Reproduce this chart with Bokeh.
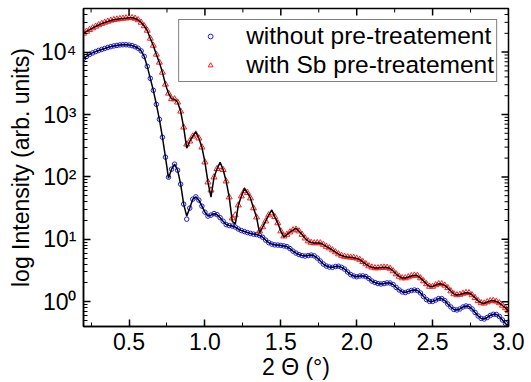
import math
from bokeh.plotting import figure
from bokeh.models import (Range1d, FixedTicker, Legend, LegendItem,
                          PrintfTickFormatter)
from bokeh.embed import file_html
from bokeh.resources import INLINE

two_theta = [0.20, 0.22, 0.24, 0.26, 0.28, 0.30, 0.32, 0.34, 0.36, 0.38,
             0.40, 0.42, 0.44, 0.46, 0.48, 0.50, 0.52, 0.54, 0.56, 0.58,
             0.60, 0.62, 0.64, 0.66, 0.68, 0.70, 0.72, 0.74, 0.76, 0.78,
             0.80, 0.82, 0.84, 0.86, 0.88, 0.90, 0.92, 0.94, 0.96, 0.98,
             1.00, 1.02, 1.04, 1.06, 1.08, 1.10, 1.12, 1.14, 1.16, 1.18,
             1.20, 1.22, 1.24, 1.26, 1.28, 1.30, 1.32, 1.34, 1.36, 1.38,
             1.40, 1.42, 1.44, 1.46, 1.48, 1.50, 1.52, 1.54, 1.56, 1.58,
             1.60, 1.62, 1.64, 1.66, 1.68, 1.70, 1.72, 1.74, 1.76, 1.78,
             1.80, 1.82, 1.84, 1.86, 1.88, 1.90, 1.92, 1.94, 1.96, 1.98,
             2.00, 2.02, 2.04, 2.06, 2.08, 2.10, 2.12, 2.14, 2.16, 2.18,
             2.20, 2.22, 2.24, 2.26, 2.28, 2.30, 2.32, 2.34, 2.36, 2.38,
             2.40, 2.42, 2.44, 2.46, 2.48, 2.50, 2.52, 2.54, 2.56, 2.58,
             2.60, 2.62, 2.64, 2.66, 2.68, 2.70, 2.72, 2.74, 2.76, 2.78,
             2.80, 2.82, 2.84, 2.86, 2.88, 2.90, 2.92, 2.94, 2.96, 2.98,
             3.00]

# without pre-treatement (measured)
blue_data = [7900, 8530, 9190, 9700, 10180, 10640, 11040, 11450, 11880, 12240,
             12560, 12790, 13030, 13120, 13120, 12980, 12700, 12190, 11530, 10450,
             8530, 5900, 3790, 2440, 1455, 837, 432, 207, 98.9, 133,
             160, 128, 76.4, 36.6, 21.0, 31.6, 44.0, 47.9, 42.4, 34.0,
             27.2, 23.5, 24.4, 25.8, 24.8, 22.2, 19.5, 17.2, 16.6, 16.3,
             15.7, 14.6, 13.8, 13.3, 12.8, 12.4, 12.1, 11.9, 11.5, 10.8,
             9.71, 8.85, 8.38, 8.13, 8.07, 7.98, 7.83, 7.64, 7.10, 6.47,
             6.01, 5.69, 5.48, 5.38, 5.48, 5.58, 5.42, 5.00, 4.48, 4.01,
             3.72, 3.59, 3.55, 3.66, 3.70, 3.55, 3.33, 2.99, 2.72, 2.58,
             2.51, 2.58, 2.59, 2.53, 2.35, 2.14, 2.03, 1.95, 1.92, 1.95,
             2.00, 1.99, 1.88, 1.69, 1.54, 1.43, 1.40, 1.46, 1.51, 1.54,
             1.51, 1.38, 1.21, 1.08, 1.01, 1.01, 1.06, 1.12, 1.12, 1.04,
             0.918, 0.822, 0.750, 0.736, 0.764, 0.822, 0.853, 0.838, 0.764, 0.671,
             0.590, 0.538, 0.528, 0.558, 0.601, 0.628, 0.624, 0.579, 0.509, 0.448,
             0.401]

# without pre-treatement (fit)
blue_fit = [7900, 8530, 9190, 9700, 10180, 10640, 11040, 11450, 11880, 12240,
            12560, 12790, 13030, 13120, 13120, 12980, 12700, 12190, 11530, 10450,
            8530, 5900, 3790, 2440, 1455, 837, 432, 207, 95.3, 133,
            160, 128, 76.4, 36.6, 23.5, 31.6, 44.0, 47.9, 42.4, 34.0,
            27.2, 23.5, 24.4, 25.8, 24.8, 22.2, 19.5, 17.2, 16.6, 16.3,
            15.7, 14.6, 13.8, 13.3, 12.8, 12.4, 12.1, 11.9, 11.5, 10.8,
            9.71, 8.85, 8.38, 8.13, 8.07, 7.98, 7.83, 7.64, 7.10, 6.47,
            6.01, 5.69, 5.48, 5.38, 5.48, 5.58, 5.42, 5.00, 4.48, 4.01,
            3.72, 3.59, 3.55, 3.66, 3.70, 3.55, 3.33, 2.99, 2.72, 2.58,
            2.51, 2.58, 2.59, 2.53, 2.35, 2.14, 2.03, 1.95, 1.92, 1.95,
            2.00, 1.99, 1.88, 1.69, 1.54, 1.43, 1.40, 1.46, 1.51, 1.54,
            1.51, 1.38, 1.21, 1.08, 1.01, 1.01, 1.06, 1.12, 1.12, 1.04,
            0.918, 0.822, 0.750, 0.736, 0.764, 0.822, 0.853, 0.838, 0.764, 0.671,
            0.590, 0.538, 0.528, 0.558, 0.601, 0.628, 0.624, 0.579, 0.509, 0.448,
            0.401]

# with Sb pre-treatement (measured)
red_data = [19910, 21430, 22800, 24270, 25760, 27230, 28580, 29850, 30970, 32140,
            32960, 33570, 34120, 34590, 34990, 35400, 35400, 34590, 32730, 29850,
            26240, 22230, 16560, 12790, 9190, 6840, 4730, 3040, 2180, 1780,
            1760, 1570, 1125, 624, 333, 372, 448, 482, 416, 299,
            172, 82.2, 61.2, 98.9, 135, 146, 130, 85.3, 47.3, 21.8,
            24.4, 35.2, 49.1, 59.7, 55.8, 45.6, 31.6, 22.6, 13.5, 15.7,
            19.5, 24.4, 26.2, 22.9, 18.2, 13.5, 11.2, 11.9, 13.0, 14.0,
            14.4, 13.5, 11.9, 10.4, 9.35, 8.85, 8.69, 8.75, 8.69, 8.22,
            7.64, 7.23, 6.71, 6.24, 5.79, 5.48, 5.28, 5.19, 5.13, 5.07,
            4.94, 4.73, 4.36, 4.01, 3.72, 3.55, 3.46, 3.46, 3.52, 3.55,
            3.52, 3.40, 3.10, 2.77, 2.53, 2.39, 2.39, 2.48, 2.58, 2.64,
            2.62, 2.39, 2.14, 1.92, 1.75, 1.75, 1.85, 1.93, 1.92, 1.82,
            1.66, 1.48, 1.33, 1.28, 1.30, 1.35, 1.39, 1.38, 1.28, 1.15,
            1.03, 0.953, 0.942, 0.989, 1.03, 1.04, 1.01, 0.953, 0.869, 0.792,
            0.710]

# with Sb pre-treatement (fit)
red_fit = [19910, 21430, 22800, 24270, 25760, 27230, 28580, 29850, 30970, 32140,
           32960, 33570, 34120, 34590, 34990, 35400, 35400, 34590, 32730, 29850,
           26240, 22230, 16560, 12790, 9190, 6840, 4730, 3040, 2180, 1780,
           1760, 1570, 1125, 624, 288, 372, 448, 525, 416, 299,
           172, 82.2, 47.3, 98.9, 135, 172, 130, 85.3, 47.3, 19.5,
           17.5, 35.2, 49.1, 65.2, 55.8, 45.6, 31.6, 22.6, 12.6, 15.7,
           19.5, 24.4, 29.3, 22.9, 18.2, 13.5, 10.8, 11.9, 13.0, 14.0,
           14.9, 13.5, 11.9, 10.4, 9.35, 8.85, 8.69, 8.75, 8.69, 8.22,
           7.64, 7.23, 6.71, 6.24, 5.79, 5.48, 5.28, 5.19, 5.13, 5.07,
           4.94, 4.73, 4.36, 4.01, 3.72, 3.55, 3.46, 3.46, 3.52, 3.55,
           3.52, 3.40, 3.10, 2.77, 2.53, 2.39, 2.39, 2.48, 2.58, 2.64,
           2.62, 2.39, 2.14, 1.92, 1.75, 1.75, 1.85, 1.93, 1.92, 1.82,
           1.66, 1.48, 1.33, 1.28, 1.30, 1.35, 1.39, 1.38, 1.28, 1.15,
           1.03, 0.953, 0.942, 0.989, 1.03, 1.04, 1.01, 0.953, 0.869, 0.792,
           0.710]

x_major = [0.5, 1.0, 1.5, 2.0, 2.5, 3.0]
x_minor = [0.25, 0.75, 1.25, 1.75, 2.25, 2.75]
y_major = [1, 10, 100, 1000, 10000]
y_major_labels = ["10\u2070", "10\u00b9", "10\u00b2", "10\u00b3", "10\u2074"]
y_minor = [0.4, 0.5, 0.6, 0.7, 0.8, 0.9,
           2, 3, 4, 5, 6, 7, 8, 9,
           20, 30, 40, 50, 60, 70, 80, 90,
           200, 300, 400, 500, 600, 700, 800, 900,
           2000, 3000, 4000, 5000, 6000, 7000, 8000, 9000,
           20000, 30000, 40000, 50000]

X_LO, X_HI = 0.2, 3.0
Y_LO, Y_HI = 0.4, 50000
FONT = "Liberation Sans"

p = figure(width=531, height=382, x_range=Range1d(X_LO, X_HI),
           y_range=Range1d(Y_LO, Y_HI), y_axis_type="log",
           output_backend="svg", toolbar_location=None,
           min_border_left=83, min_border_right=23, min_border_top=8,
           min_border_bottom=56)
p.grid.visible = False
p.outline_line_color = "black"
p.outline_line_width = 1.5
p.background_fill_color = "white"
p.border_fill_color = "white"

r_blue = p.scatter(two_theta, blue_data, marker="circle", size=4.5,
                   line_color="#1a1aff", fill_color=None, line_width=1)
r_red = p.scatter(two_theta, red_data, marker="triangle", size=6,
                  line_color="#ff1a1a", fill_color=None, line_width=1)
p.line(two_theta, blue_fit, line_color="black", line_width=1.5)
p.line(two_theta, red_fit, line_color="black", line_width=1.5)

# mirrored inward ticks on top and right edges (clipped to frame)
p.scatter(x_major, [Y_HI] * len(x_major), marker="dash", angle=math.pi / 2,
          size=14, line_color="black", line_width=1.5)
p.scatter(x_minor, [Y_HI] * len(x_minor), marker="dash", angle=math.pi / 2,
          size=8, line_color="black", line_width=1)
p.scatter([X_HI] * len(y_major), y_major, marker="dash",
          size=14, line_color="black", line_width=1.5)
p.scatter([X_HI] * len(y_minor), y_minor, marker="dash",
          size=8, line_color="black", line_width=1)

xt = FixedTicker(ticks=x_major, minor_ticks=x_minor)
yt = FixedTicker(ticks=y_major, minor_ticks=y_minor)


def style(ax):
    ax.axis_line_color = "black"
    ax.axis_line_width = 1.5
    ax.major_tick_in = 7
    ax.major_tick_out = 0
    ax.minor_tick_in = 4
    ax.minor_tick_out = 0
    ax.major_tick_line_width = 1.5
    ax.minor_tick_line_width = 1
    ax.major_label_text_font = FONT
    ax.major_label_text_color = "black"
    ax.axis_label_text_font = FONT
    ax.axis_label_text_font_style = "normal"
    ax.axis_label_text_color = "black"


xa = p.xaxis[0]
xa.ticker = xt
xa.formatter = PrintfTickFormatter(format="%.1f")
style(xa)
xa.major_label_text_font_size = "23px"
xa.major_label_standoff = 6
xa.axis_label = "2 \u0398 (\u00b0)"
xa.axis_label_text_font_size = "23px"
xa.axis_label_standoff = 1

ya = p.yaxis[0]
ya.ticker = yt
ya.major_label_overrides = {v: s for v, s in zip(y_major, y_major_labels)}
style(ya)
ya.major_label_text_font_size = "23px"
ya.major_label_standoff = 7
ya.axis_label = "log Intensity (arb. units)"
ya.axis_label_text_font_size = "23px"
ya.axis_label_standoff = 4

legend = Legend(items=[LegendItem(label="without pre-treatement", renderers=[r_blue]),
                       LegendItem(label="with Sb pre-treatement", renderers=[r_red])],
                location="top_right")
legend.margin = 11
legend.padding = 2
legend.spacing = 1
legend.glyph_width = 58
legend.glyph_height = 12
legend.label_height = 12
legend.label_standoff = 7
legend.label_text_font = FONT
legend.label_text_font_size = "24.5px"
legend.label_text_color = "black"
legend.border_line_color = "black"
legend.border_line_width = 1.2
legend.background_fill_alpha = 1.0
p.add_layout(legend)

open("out.html", "w").write(file_html(p, INLINE))
